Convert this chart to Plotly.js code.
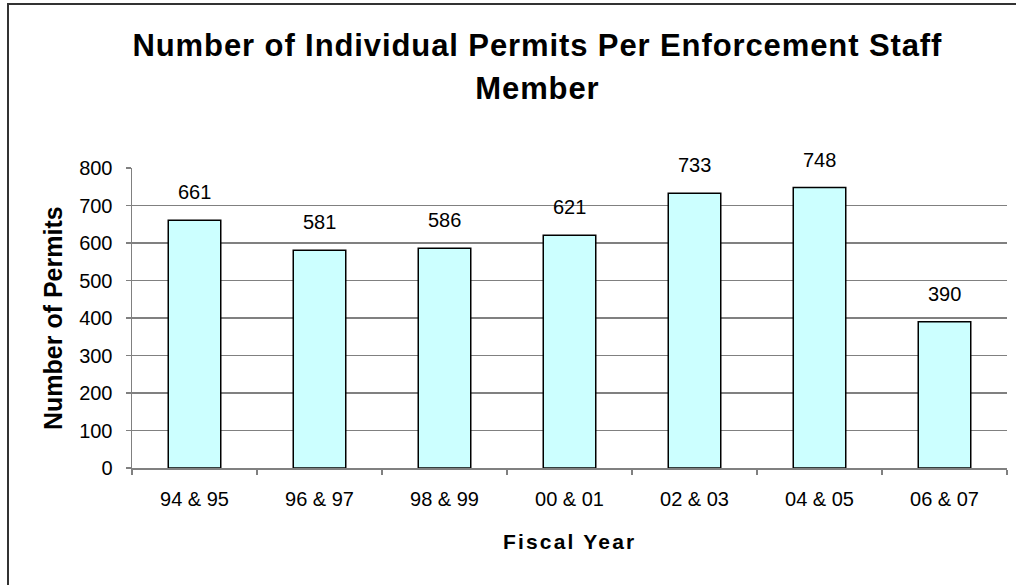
<!DOCTYPE html>
<html>
<head>
<meta charset="utf-8">
<script src="https://cdn.plot.ly/plotly-3.0.1.min.js"></script>
<style>
  html, body { margin: 0; padding: 0; background: #fff; }
  #wrap { position: relative; width: 1016px; height: 585px; overflow: hidden; }
  #chart { position: absolute; left: 0; top: 0; width: 1016px; height: 585px; }
  #frame { position: absolute; left: 7px; top: 3px; width: 1200px; height: 800px;
           border-left: 2px solid #333; border-top: 2px solid #333; pointer-events: none; }
  #chart text[data-unformatted*="Fiscal Year"] { letter-spacing: 2.2px; }
  #chart text[data-unformatted*="Enforcement"] { letter-spacing: 0.9px; }
  #chart text[data-unformatted="Member"] { letter-spacing: 0.9px; }
</style>
</head>
<body>
<div id="wrap">
  <div id="chart"></div>
  <div id="frame"></div>
</div>
<script>
const categories = ['94 & 95', '96 & 97', '98 & 99', '00 & 01', '02 & 03', '04 & 05', '06 & 07'];
const permits = [661, 581, 586, 621, 733, 748, 390];
const titleLines = ['Number of Individual Permits Per Enforcement Staff', 'Member'];
const xTitle = 'Fiscal Year';
const yTitle = 'Number of Permits';

const FONT = 'Liberation Sans, Arial, sans-serif';

const trace = {
  type: 'bar',
  x: categories,
  y: permits,
  marker: { color: '#CCFFFF', line: { color: '#000000', width: 1.5 } },
  hoverinfo: 'skip'
};

const valueLabels = categories.map((c, i) => ({
  x: c, y: permits[i], xref: 'x', yref: 'y',
  text: String(permits[i]), showarrow: false,
  yanchor: 'middle', yshift: 28,
  font: { family: FONT, size: 20, color: '#000' }
}));

const titleX = (537 - 132) / 875;
const annotations = valueLabels.concat([
  { text: titleLines[0], xref: 'paper', yref: 'paper', x: titleX, xanchor: 'center',
    y: 1, yanchor: 'middle', yshift: 123, showarrow: false,
    font: { family: FONT, size: 31, color: '#000', weight: 'bold' } },
  { text: titleLines[1], xref: 'paper', yref: 'paper', x: titleX, xanchor: 'center',
    y: 1, yanchor: 'middle', yshift: 80, showarrow: false,
    font: { family: FONT, size: 31, color: '#000', weight: 'bold' } },
  { text: xTitle, xref: 'paper', yref: 'paper', x: 0.5, xanchor: 'center',
    y: 0, yanchor: 'middle', yshift: -73, showarrow: false,
    font: { family: FONT, size: 21, color: '#000', weight: 'bold' } },
  { text: yTitle, xref: 'paper', yref: 'paper', x: 0, xanchor: 'center',
    xshift: -79, y: 0.5, yanchor: 'middle', yshift: 0, textangle: -90, showarrow: false,
    font: { family: FONT, size: 25, color: '#000', weight: 'bold' } }
]);

const layout = {
  width: 1016, height: 585,
  margin: { l: 132, r: 9, t: 168, b: 117, pad: 0 },
  paper_bgcolor: '#ffffff', plot_bgcolor: '#ffffff',
  showlegend: false,
  bargap: 0.58,
  font: { family: FONT, size: 20, color: '#000' },
  xaxis: {
    type: 'category',
    showline: true, linecolor: '#808080', linewidth: 1.5,
    ticks: 'outside', tickson: 'boundaries', ticklen: 5, tickcolor: '#808080', tickwidth: 1.5,
    tickfont: { family: FONT, size: 20, color: '#000' },
    ticklabelstandoff: 12,
    showgrid: false, zeroline: false, fixedrange: true
  },
  yaxis: {
    range: [0, 800], dtick: 100, tick0: 0,
    showline: true, linecolor: '#808080', linewidth: 1.5,
    ticks: 'outside', ticklen: 5, tickcolor: '#808080', tickwidth: 1.5,
    tickfont: { family: FONT, size: 20, color: '#000' },
    ticklabelstandoff: 9,
    showgrid: true, gridcolor: '#808080', gridwidth: 1.5,
    zeroline: false, fixedrange: true
  },
  annotations: annotations
};

Plotly.newPlot('chart', [trace], layout, { displayModeBar: false, staticPlot: true });
</script>
</body>
</html>
